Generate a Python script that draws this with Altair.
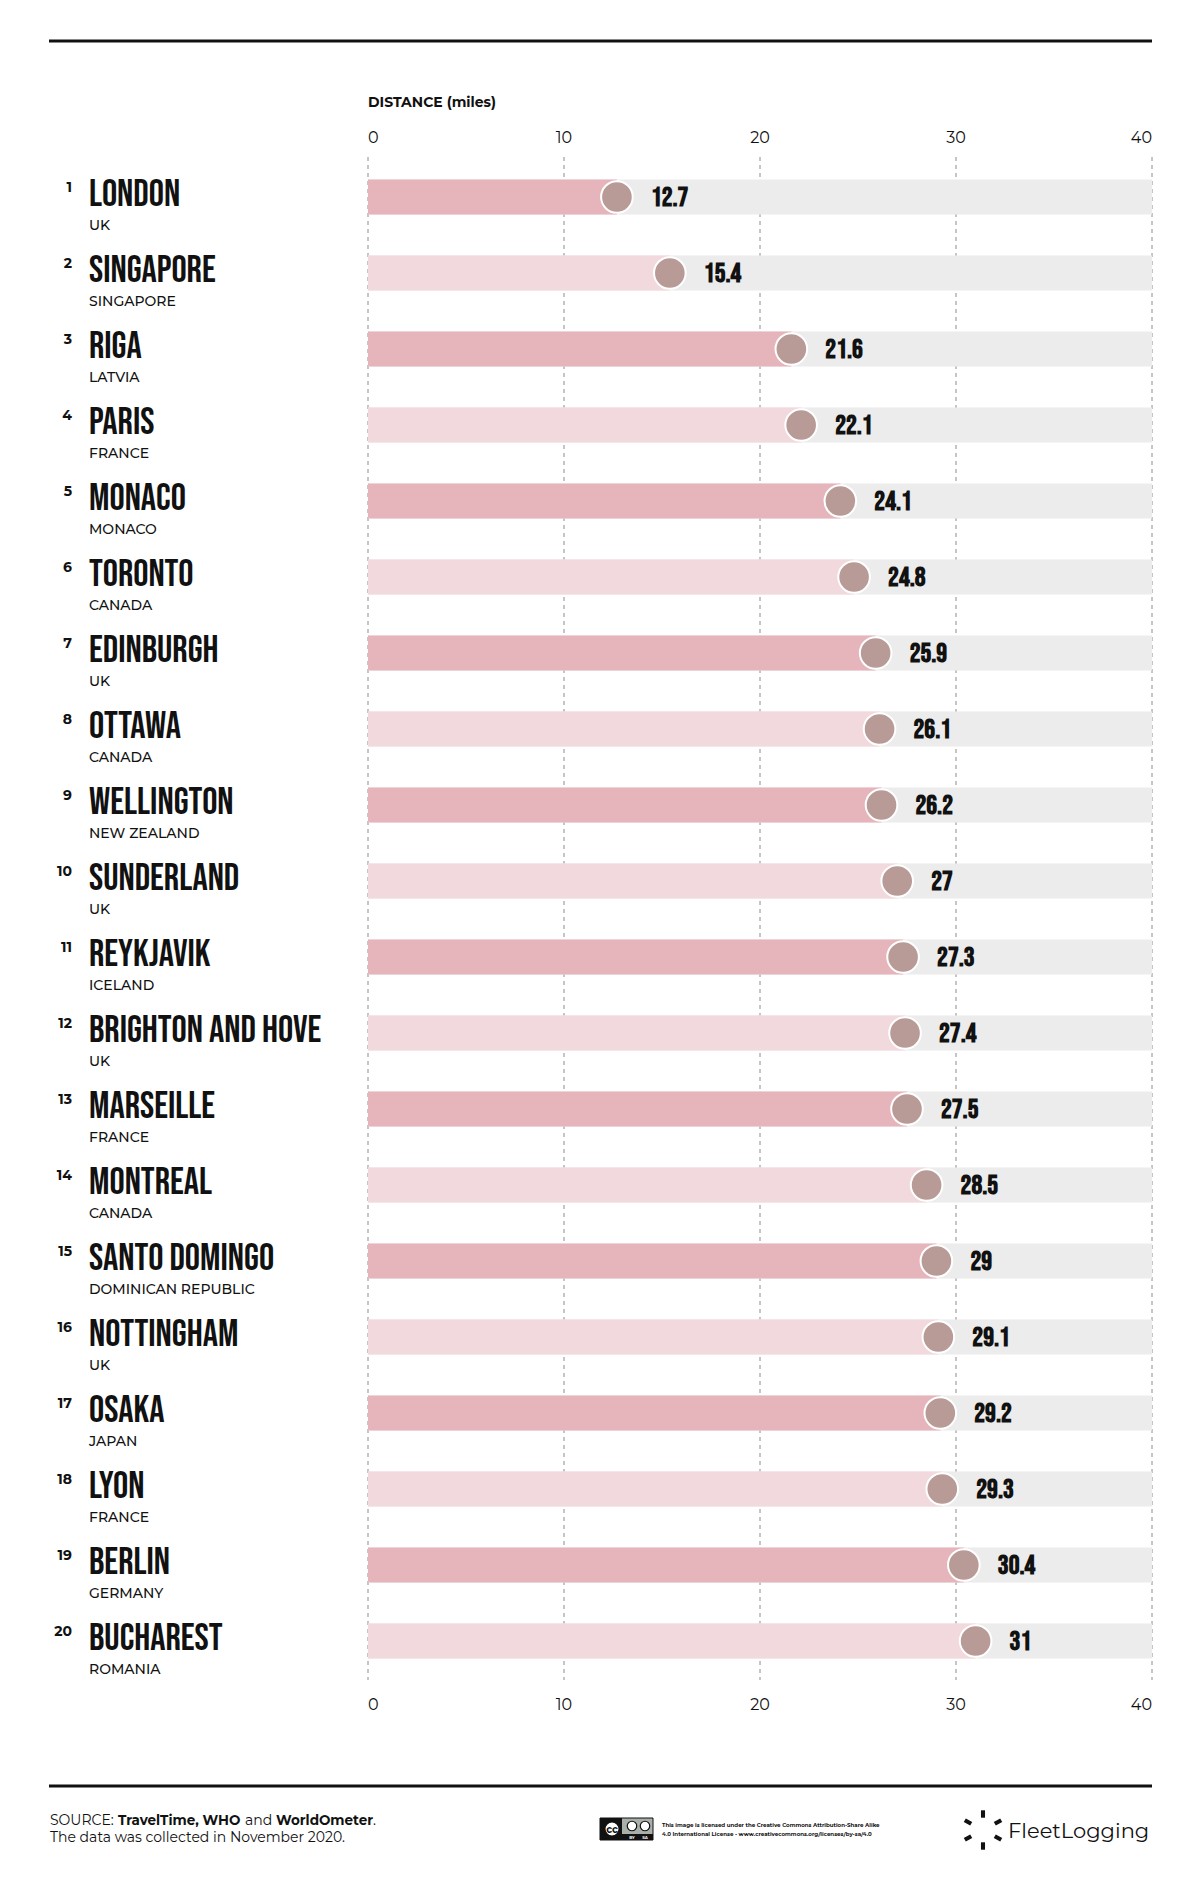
import altair as alt
import pandas as pd

cities = ["LONDON", "SINGAPORE", "RIGA", "PARIS", "MONACO", "TORONTO", "EDINBURGH",
          "OTTAWA", "WELLINGTON", "SUNDERLAND", "REYKJAVIK", "BRIGHTON AND HOVE",
          "MARSEILLE", "MONTREAL", "SANTO DOMINGO", "NOTTINGHAM", "OSAKA", "LYON",
          "BERLIN", "BUCHAREST"]
countries = ["UK", "SINGAPORE", "LATVIA", "FRANCE", "MONACO", "CANADA", "UK", "CANADA",
             "NEW ZEALAND", "UK", "ICELAND", "UK", "FRANCE", "CANADA",
             "DOMINICAN REPUBLIC", "UK", "JAPAN", "FRANCE", "GERMANY", "ROMANIA"]
values = [12.7, 15.4, 21.6, 22.1, 24.1, 24.8, 25.9, 26.1, 26.2, 27, 27.3, 27.4, 27.5,
          28.5, 29, 29.1, 29.2, 29.3, 30.4, 31]
ticks = [0, 10, 20, 30, 40]

BEBAS = "Bebas Neue, Oswald, sans-serif"
MONT = "Montserrat, Open Sans, sans-serif"

df = pd.DataFrame({
    "rank": list(range(1, len(cities) + 1)),
    "city": cities,
    "country": countries,
    "value": values,
})
df["parity"] = ["odd" if r % 2 else "even" for r in df["rank"]]
tdf = pd.DataFrame({"tick": ticks})
one = pd.DataFrame({"a": [0]})

xs = alt.Scale(domain=[0, 40], range=[360, 1144])
ys = alt.Scale(domain=[1, 20], range=[189, 1633])

base = alt.Chart(df)
Y = alt.Y("rank:Q", scale=ys, axis=None)

grid = alt.Chart(tdf).mark_rule(color="#8c8c8c", strokeWidth=1, strokeDash=[4, 4]).encode(
    x=alt.X("tick:Q", scale=xs, axis=None),
    y=alt.value(149), y2=alt.value(1672))

bg = base.transform_calculate(zero="0", full="40").mark_rule(
    color="#ececec", strokeWidth=35, strokeCap="butt").encode(
    x=alt.X("zero:Q", scale=xs, axis=None), x2="full:Q", y=Y)

bars = base.transform_calculate(zero="0").mark_rule(strokeWidth=35, strokeCap="butt").encode(
    x=alt.X("zero:Q", scale=xs, axis=None), x2="value:Q", y=Y,
    color=alt.Color("parity:N", scale=alt.Scale(domain=["odd", "even"],
                                                range=["#e6b4bb", "#f2d9dd"]), legend=None))

dots = base.mark_circle(size=1000, opacity=1, color="#b89b97", stroke="white",
                        strokeWidth=2).encode(x=alt.X("value:Q", scale=xs, axis=None), y=Y)

vals = base.mark_text(align="left", baseline="middle", dx=34, dy=1, font=BEBAS,
                      fontSize=27, fontWeight="bold", color="#111").encode(
    x=alt.X("value:Q", scale=xs, axis=None), y=Y, text="value:Q")

rank_t = base.mark_text(align="right", baseline="alphabetic", dy=-5, font=MONT,
                        fontSize=14, fontWeight="bold", color="#111").encode(
    x=alt.value(64), y=Y, text="rank:Q")
city_t = base.mark_text(align="left", baseline="alphabetic", dy=9, font=BEBAS,
                        fontSize=38, fontWeight="normal", color="#111").encode(
    x=alt.value(81), y=Y, text="city:N")
country_t = base.mark_text(align="left", baseline="alphabetic", dy=33, font=MONT,
                           fontSize=14, fontWeight=500, color="#111").encode(
    x=alt.value(81), y=Y, text="country:N")

def tick_labels(yv):
    layers = []
    for cond, al in [("datum.tick == 0", "left"),
                     ("datum.tick > 0 && datum.tick < 40", "center"),
                     ("datum.tick == 40", "right")]:
        layers.append(alt.Chart(tdf).transform_filter(cond).mark_text(
            align=al, baseline="alphabetic", font=MONT, fontSize=16, color="#111").encode(
            x=alt.X("tick:Q", scale=xs, axis=None), y=alt.value(yv), text="tick:Q"))
    return layers

title = alt.Chart(one).mark_text(align="left", baseline="alphabetic", font=MONT,
                                 fontSize=14, fontWeight="bold", color="#111").encode(
    x=alt.value(360), y=alt.value(99), text=alt.value("DISTANCE (miles)"))

top_rule = alt.Chart(one).mark_rule(color="#111", strokeWidth=3).encode(
    x=alt.value(41), x2=alt.value(1144), y=alt.value(33))
bot_rule = alt.Chart(one).mark_rule(color="#111", strokeWidth=3).encode(
    x=alt.value(41), x2=alt.value(1144), y=alt.value(1778))

def txt(s, x, y, size=14, weight="normal", font=MONT, color="#111", align="left"):
    return alt.Chart(one).mark_text(align=align, baseline="alphabetic", font=font,
                                    fontSize=size, fontWeight=weight, color=color).encode(
        x=alt.value(x), y=alt.value(y), text=alt.value(s))

footer = [
    txt("SOURCE:", 42, 1817, 14),
    txt("TravelTime, WHO", 110, 1817, 13.5, "bold"),
    txt("and", 237, 1817, 14),
    txt("WorldOmeter", 268, 1817, 13.5, "bold"),
    txt(".", 365, 1817, 14),
    txt("The data was collected in November 2020.", 42, 1834, 14),
    txt("This image is licensed under the Creative Commons Attribution-Share Alike", 654, 1819, 5.5, "bold"),
    txt("4.0 International License - www.creativecommons.org/licenses/by-sa/4.0", 654, 1828, 5.5, "bold"),
    txt("FleetLogging", 1000, 1830, 21, font=MONT, color="#111"),
]

def rect(x1, x2, y1, y2, fill, stroke=None):
    kw = dict(color=fill)
    if stroke:
        kw.update(stroke=stroke, strokeWidth=1)
    return alt.Chart(one).mark_rect(**kw).encode(
        x=alt.value(x1), x2=alt.value(x2), y=alt.value(y1), y2=alt.value(y2))

def dot(x, y, size, fill, stroke=None):
    kw = dict(color=fill, opacity=1, size=size)
    if stroke:
        kw.update(stroke=stroke, strokeWidth=1.2)
    return alt.Chart(one).mark_circle(**kw).encode(x=alt.value(x), y=alt.value(y))

cc = [
    rect(592, 645, 1810, 1832, "#a9b0aa", "#111"),
    rect(592, 614, 1810, 1832, "#111"),
    dot(604, 1821, 200, "white", "#111"),
    txt("cc", 604, 1825, 10, "bold", color="#111", align="center"),
    rect(614, 645, 1826, 1832, "#111"),
    dot(624, 1818, 90, "white", "#111"),
    dot(637, 1818, 90, "white", "#111"),
    txt("BY", 624, 1831, 4, "bold", color="white", align="center"),
    txt("SA", 637, 1831, 4, "bold", color="white", align="center"),
]

seat = "M-0.55,-1 L0.55,-1 L0.55,1 L-0.55,1 Z"
logo = []
for (px, py, ang) in [(975, 1806, 0), (990, 1814, 60), (990, 1830, 120),
                      (975, 1838, 0), (960, 1830, 60), (960, 1814, 120)]:
    logo.append(alt.Chart(one).mark_point(shape=seat, filled=True, size=55, angle=ang,
                                          color="#111", opacity=1).encode(
        x=alt.value(px), y=alt.value(py)))

chart = alt.layer(
    top_rule, title, *tick_labels(135), grid, bg, bars, dots, vals,
    rank_t, city_t, country_t, *tick_labels(1702), bot_rule,
    *footer, *cc, *logo
).properties(
    width=1184, height=1862, padding=0,
    autosize=alt.AutoSizeParams(type="none"),
    background="white"
).configure_view(stroke=None)

chart.save("out.html", embed_options={"renderer": "svg", "actions": False})
